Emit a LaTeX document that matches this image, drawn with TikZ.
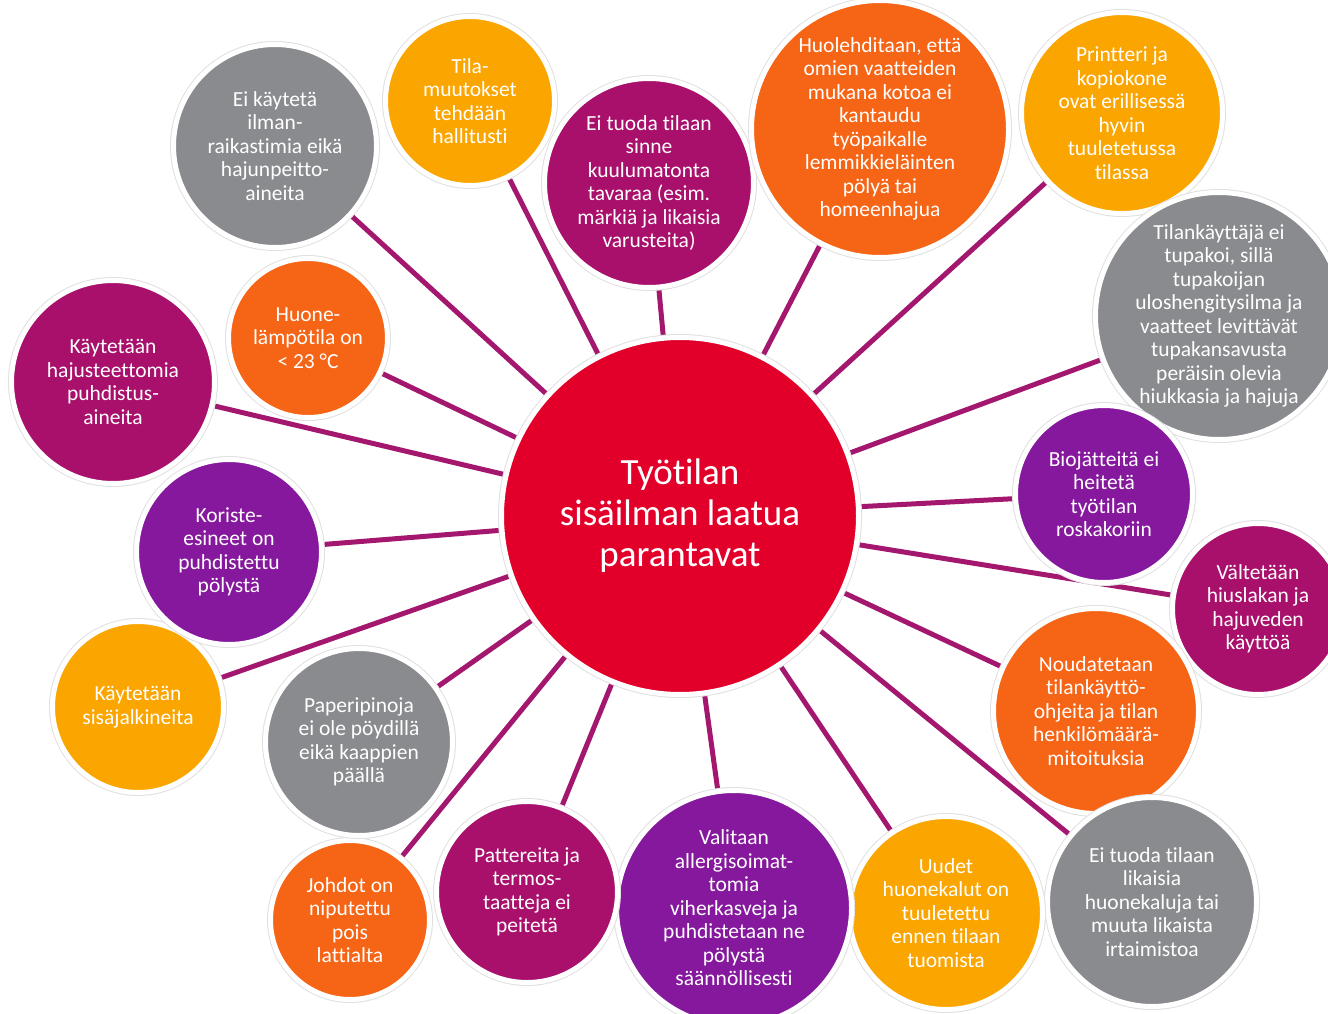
\documentclass[tikz,border=0pt]{standalone}
\usepackage{fontspec}
\setmainfont{Carlito}[Ligatures=NoCommon]
\usepackage{tikz}
\usetikzlibrary{backgrounds}
\definecolor{harmaa}{HTML}{898B8E}
\definecolor{keltainen}{HTML}{FBA500}
\definecolor{viini}{HTML}{A8106B}
\definecolor{oranssi}{HTML}{F66415}
\definecolor{violetti}{HTML}{85189D}
\definecolor{punainen}{HTML}{E2002B}
\definecolor{viivavari}{HTML}{A3186E}

\begin{document}
\begin{tikzpicture}[x=1pt,y=-1pt,
  pallo/.style={circle,fill=#1,draw=white,line width=5pt,
    preaction={draw=black!12,line width=7pt},inner sep=-40pt,
    align=center,text=white,font=\fontsize{21.5}{23.5}\selectfont},
  viiva/.style={draw=viivavari,line width=5pt}]
\useasboundingbox (0,0) rectangle (1328,1014);
\node[pallo=punainen,minimum size=357pt,font=\fontsize{37}{41}\selectfont] (keski) at (680,516) {Työtilan\\sisäilman laatua\\parantavat};
\node[pallo=harmaa,minimum size=203pt] (ilma) at (275,146) {Ei käytetä\\ilman-\\raikastimia eikä\\hajunpeitto-\\aineita};
\node[pallo=keltainen,minimum size=169pt] (muutos) at (470,101) {Tila-\\muutokset\\tehdään\\hallitusti};
\node[pallo=viini,minimum size=209pt] (tavara) at (649,183) {Ei tuoda tilaan\\sinne\\kuulumatonta\\tavaraa (esim.\\märkiä ja likaisia\\varusteita)};
\node[pallo=oranssi,minimum size=257pt] (lemmikki) at (880,129) {Huolehditaan, että\\omien vaatteiden\\mukana kotoa ei\\kantaudu\\työpaikalle\\lemmikkieläinten\\pölyä tai\\homeenhajua};
\node[pallo=keltainen,minimum size=201pt] (printteri) at (1122,113) {Printteri ja\\kopiokone\\ovat erillisessä\\hyvin\\tuuletetussa\\tilassa};
\node[pallo=harmaa,minimum size=247pt] (tupakka) at (1219,316) {Tilankäyttäjä ei\\tupakoi, sillä\\tupakoijan\\uloshengitysilma ja\\vaatteet levittävät\\tupakansavusta\\peräisin olevia\\hiukkasia ja hajuja};
\node[pallo=violetti,minimum size=177pt] (bio) at (1104,494) {Biojätteitä ei\\heitetä\\työtilan\\roskakoriin};
\node[pallo=viini,minimum size=171pt] (hiuslakka) at (1258,609) {Vältetään\\hiuslakan ja\\hajuveden\\käyttöä};
\node[pallo=oranssi,minimum size=205pt] (ohjeet) at (1096,711) {Noudatetaan\\tilankäyttö-\\ohjeita ja tilan\\henkilömäärä-\\mitoituksia};
\node[pallo=harmaa,minimum size=209pt] (huonekalu) at (1152,902) {Ei tuoda tilaan\\likaisia\\huonekaluja tai\\muuta likaista\\irtaimistoa};
\node[pallo=keltainen,minimum size=193pt] (uudet) at (946,913) {Uudet\\huonekalut on\\tuuletettu\\ennen tilaan\\tuomista};
\node[pallo=violetti,minimum size=235pt] (kasvit) at (734,908) {Valitaan\\allergisoimat-\\tomia\\viherkasveja ja\\puhdistetaan ne\\pölystä\\säännöllisesti};
\node[pallo=viini,minimum size=181pt] (patterit) at (527,892) {Pattereita ja\\termos-\\taatteja ei\\peitetä};
\node[pallo=oranssi,minimum size=159pt] (johdot) at (350,920) {Johdot on\\niputettu\\pois\\lattialta};
\node[pallo=harmaa,minimum size=187pt] (paperit) at (359,742) {Paperipinoja\\ei ole pöydillä\\eikä kaappien\\päällä};
\node[pallo=keltainen,minimum size=171pt] (jalkineet) at (138,707) {Käytetään\\sisäjalkineita};
\node[pallo=violetti,minimum size=185pt] (koriste) at (229,552) {Koriste-\\esineet on\\puhdistettu\\pölystä};
\node[pallo=viini,minimum size=203pt] (puhdistus) at (113,382) {Käytetään\\hajusteettomia\\puhdistus-\\aineita};
\node[pallo=oranssi,minimum size=159pt] (lampo) at (308,338) {Huone-\\lämpötila on\\< 23 °C};
\begin{scope}[on background layer]
\draw[viiva] (keski) -- (ilma);
\draw[viiva] (keski) -- (muutos);
\draw[viiva] (keski) -- (tavara);
\draw[viiva] (keski) -- (lemmikki);
\draw[viiva] (keski) -- (printteri);
\draw[viiva] (keski) -- (tupakka);
\draw[viiva] (keski) -- (bio);
\draw[viiva] (keski) -- (hiuslakka);
\draw[viiva] (keski) -- (ohjeet);
\draw[viiva] (keski) -- (huonekalu);
\draw[viiva] (keski) -- (uudet);
\draw[viiva] (keski) -- (kasvit);
\draw[viiva] (keski) -- (patterit);
\draw[viiva] (keski) -- (johdot);
\draw[viiva] (keski) -- (paperit);
\draw[viiva] (keski) -- (jalkineet);
\draw[viiva] (keski) -- (koriste);
\draw[viiva] (keski) -- (puhdistus);
\draw[viiva] (keski) -- (lampo);
\end{scope}
\end{tikzpicture}
\end{document}
